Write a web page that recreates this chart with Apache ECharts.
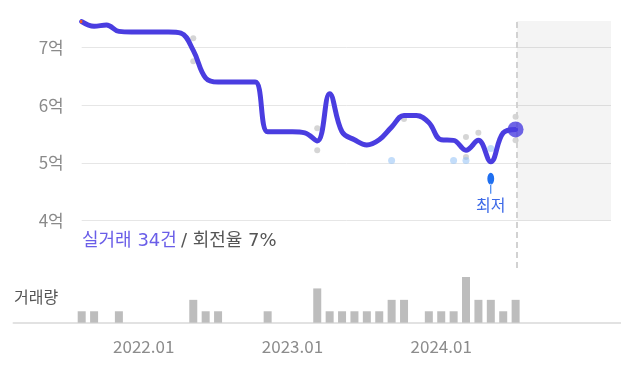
<!DOCTYPE html>
<html><head><meta charset="utf-8">
<script src="https://cdn.jsdelivr.net/npm/echarts@6/dist/echarts.min.js"></script>
<style>html,body{margin:0;padding:0;background:#fff}#c{width:621px;height:385px}</style>
</head><body><div id="c"></div>
<script>
// axis months (volume axis), 2021.03 .. 2025.03
const axisMonths = [];
for (let y = 2021, m = 3; !(y === 2025 && m === 4); ) {
  axisMonths.push(y + '.' + String(m).padStart(2, '0'));
  m++; if (m > 12) { m = 1; y++; }
}
const xTickLabels = ['2022.01', '2023.01', '2024.01'];
// monthly price trend (억), 2021.08 .. 2024.07
const priceMonths = ['2021.08','2021.09','2021.10','2021.11','2021.12','2022.01','2022.02','2022.03','2022.04','2022.05','2022.06','2022.07','2022.08','2022.09','2022.10','2022.11','2022.12','2023.01','2023.02','2023.03','2023.04','2023.05','2023.06','2023.07','2023.08','2023.09','2023.10','2023.11','2023.12','2024.01','2024.02','2024.03','2024.04','2024.05','2024.06','2024.07'];
const prices = [7.45,7.37,7.39,7.28,7.27,7.27,7.27,7.27,7.25,6.95,6.47,6.40,6.40,6.40,6.40,5.54,5.54,5.54,5.52,5.38,6.20,5.54,5.40,5.31,5.40,5.62,5.82,5.82,5.70,5.40,5.39,5.22,5.39,5.02,5.52,5.58];
const volumes = [1,1,0,1,0,0,0,0,0,2,1,1,0,0,0,1,0,0,0,3,1,1,1,1,1,2,2,0,1,1,1,4,2,2,1,2];
// short earlier segment (orange) at the very start
const preSegX = [-0.35, 0.05];
const preSegPrices = [7.45, 7.45];
// individual deals
const grayDealMonths = ['2022.05','2022.05','2023.03','2023.03','2023.10','2024.03','2024.03','2024.04','2024.07','2024.07'];
const grayDealPrices = [7.16,6.76,5.60,5.22,5.76,5.45,5.10,5.52,5.80,5.39];
const blueDealMonths = ['2023.09','2024.02','2024.03','2024.05'];
const blueDealPrices = [5.04,5.04,5.04,5.25];
const yTicks = [4,5,6,7];
const todayIdx = 35.1;
const xMax = 42.7;
const yMax = 7.46;

const idxOf = m => priceMonths.indexOf(m);
const lineData = prices.map((p, i) => [i, p]);
const preSegData = preSegX.map((x, i) => [x, preSegPrices[i]]);
const grayData = grayDealMonths.map((m, i) => [idxOf(m), grayDealPrices[i]]);
const blueData = blueDealMonths.map((m, i) => [idxOf(m), blueDealPrices[i]]);
const barData = axisMonths.map(m => { const i = idxOf(m); return i >= 0 && volumes[i] > 0 ? volumes[i] : null; });
const lastPoint = [prices.length - 1, prices[prices.length - 1]];

const FONT = "'Noto Sans CJK KR', 'Noto Sans', sans-serif";
const FONT2 = "'DejaVu Sans', 'Noto Sans CJK KR', sans-serif";
const LINE = '#4a3de0';
const chart = echarts.init(document.getElementById('c'));
chart.setOption({
  animation: false,
  textStyle: { fontFamily: FONT },
  title: [
    { text: '{a|실거래 34건} {b|/ 회전율 7%}', left: 82, top: 232, padding: 0,
      textStyle: { fontWeight: 'normal', rich: {
        a: { color: '#6a5ee8', fontSize: 18, fontWeight: 'normal', fontFamily: FONT2 },
        b: { color: '#555', fontSize: 18, fontWeight: 'normal', fontFamily: FONT2 } } } },
    { text: '거래량', left: 14, top: 289, padding: 0,
      textStyle: { color: '#555', fontSize: 16, fontWeight: 'normal', fontFamily: FONT } }
  ],
  grid: [
    { left: 81.7, right: 10, top: 21, bottom: 164.5 },
    { left: 13.5, right: 0, top: 277, bottom: 62.3 },
    { left: 81.7, right: 10, top: 21, bottom: 117 }
  ],
  xAxis: [
    { type: 'value', gridIndex: 0, min: 0, max: xMax, show: false },
    { type: 'category', gridIndex: 1, data: axisMonths,
      axisLine: { lineStyle: { color: '#e2e2e2', width: 2 } }, axisTick: { show: false },
      axisLabel: { interval: (i, v) => xTickLabels.includes(v), color: '#8c8c8c', fontSize: 17, margin: 15, fontFamily: FONT } },
    { type: 'value', gridIndex: 2, min: 0, max: xMax, show: false }
  ],
  yAxis: [
    { type: 'value', gridIndex: 0, min: 4, max: yMax, interval: 1,
      axisLine: { show: false }, axisTick: { show: false },
      axisLabel: { color: '#8a8a8a', fontSize: 17, margin: 18, fontFamily: FONT,
        formatter: v => yTicks.includes(v) ? v + '억' : '' },
      splitLine: { showMaxLine: false, lineStyle: { color: '#e6e6e6', width: 1 } } },
    { type: 'value', gridIndex: 1, min: 0, max: 4, show: false },
    { type: 'value', gridIndex: 2, min: 0, max: 1, show: false }
  ],
  series: [
    { type: 'bar', xAxisIndex: 1, yAxisIndex: 1, data: barData, barWidth: 8,
      itemStyle: { color: '#bdbdbd' }, silent: true },
    { type: 'line', xAxisIndex: 2, yAxisIndex: 2, data: [[todayIdx, 0]], symbol: 'none',
      lineStyle: { opacity: 0 }, z: 1,
      markLine: { silent: true, symbol: ['none', 'none'], label: { show: false },
        lineStyle: { type: [6, 4], color: '#d2d2d2', width: 2 },
        data: [{ xAxis: todayIdx }] } },
    { type: 'scatter', xAxisIndex: 0, yAxisIndex: 0, data: grayData, symbolSize: 6,
      itemStyle: { color: 'rgba(150,150,150,0.5)' }, z: 2 },
    { type: 'scatter', xAxisIndex: 0, yAxisIndex: 0, data: blueData, symbolSize: 7,
      itemStyle: { color: 'rgba(140,190,245,0.65)' }, z: 2 },
    { type: 'line', xAxisIndex: 0, yAxisIndex: 0, data: lineData, smooth: 0.4, clip: false,
      showSymbol: false, lineStyle: { color: LINE, width: 5, cap: 'round', join: 'round' }, z: 4,
      markArea: { silent: true, itemStyle: { color: 'rgba(0,0,0,0.045)' },
        data: [[{ xAxis: todayIdx }, { xAxis: xMax }]] },
      markPoint: { symbol: 'path://M0,6A6,6 0 1,0 12,6A6,6 0 1,0 0,6Z M5.1,11H6.9V21H5.1Z',
        symbolKeepAspect: true, symbolSize: [12, 21], symbolOffset: [0, 21.5],
        itemStyle: { color: '#1f6ff0' },
        label: { show: true, position: 'bottom', distance: 3, formatter: '최저', color: '#3d6ae8', fontSize: 16, fontFamily: FONT },
        data: [{ type: 'min', name: '최저' }] } },
    { type: 'line', xAxisIndex: 0, yAxisIndex: 0, data: preSegData, clip: false, showSymbol: false,
      lineStyle: { color: '#f05a28', width: 3 }, z: 5 },
    { type: 'scatter', xAxisIndex: 0, yAxisIndex: 0, data: [lastPoint], symbolSize: 16,
      itemStyle: { color: LINE }, z: 10 }
  ]
});
</script></body></html>
